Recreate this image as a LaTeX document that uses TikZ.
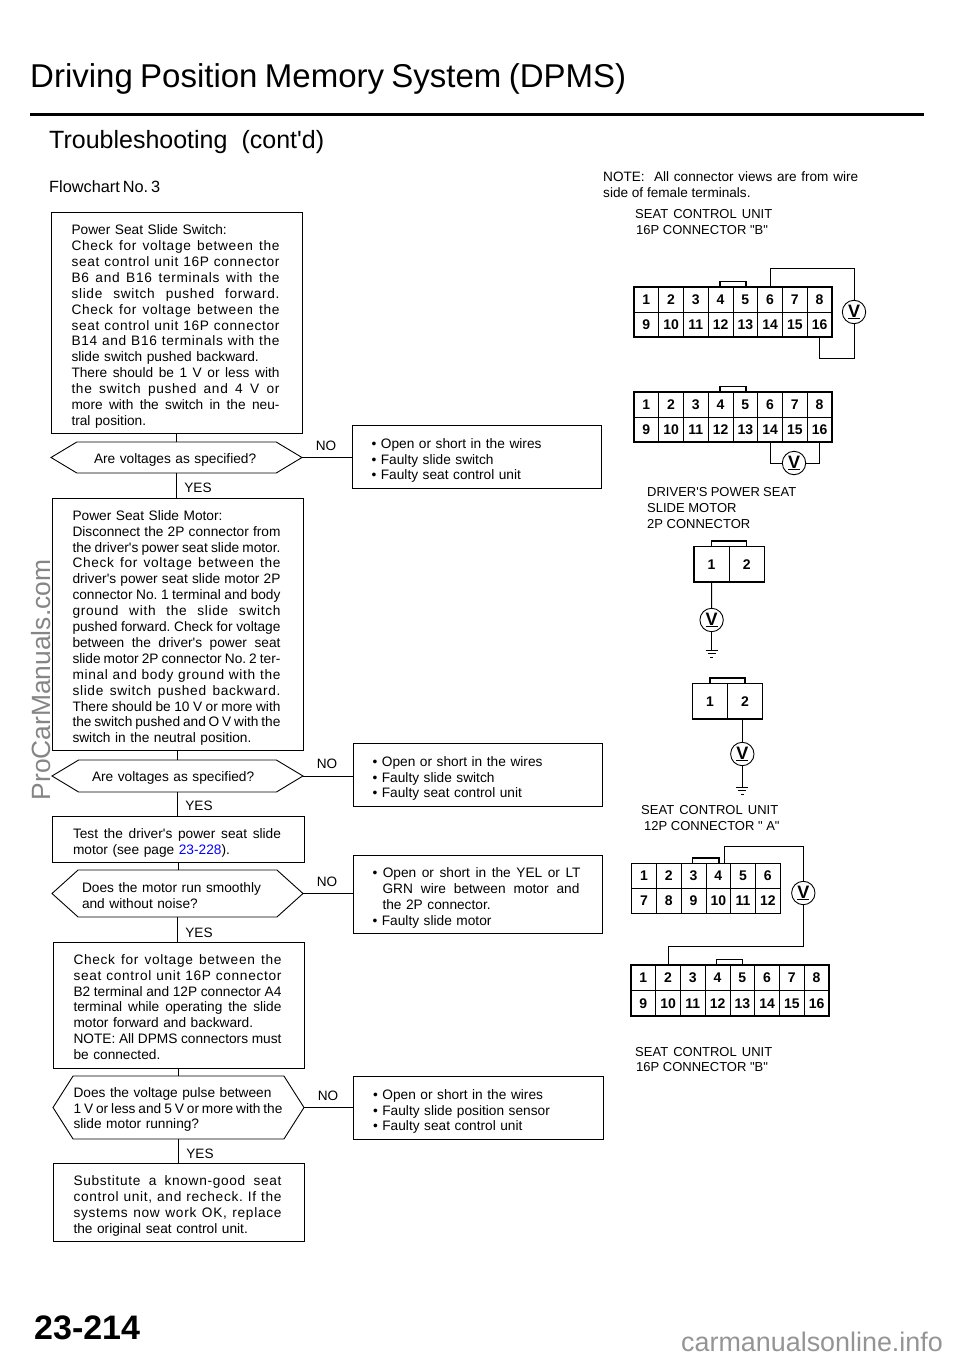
\documentclass[tikz,border=0pt]{standalone}
\usepackage{fontspec}
\setmainfont{Liberation Sans}[Ligatures=TeXOff]
\usetikzlibrary{shapes.symbols}

\newcommand{\jw}[2]{\makebox[#1pt][s]{\spaceskip=0pt \xspaceskip=0pt #2}}
\newcommand{\jl}[1]{\jw{208}{#1}}
\newcommand{\js}[1]{\jw{208}{\addfontfeature{LetterSpace=5}#1}}

\tikzset{
	wire/.style={line width=0.9pt},
	flowbox/.style={draw, line width=0.9pt, inner sep=0pt, outer sep=0pt, text width=210pt, align=left, font=\fontsize{13.7}{15.9}\selectfont, execute at begin node={\rule{0pt}{#1}}},
	flowbox/.default=18pt,
	decbox/.style={draw, line width=0.9pt, inner sep=0pt, outer sep=0pt, shape=signal, signal to=west and east, align=left, font=\fontsize{13.7}{15.9}\selectfont, execute at begin node={\rule{0pt}{14pt}}},
	lbl/.style={inner sep=0pt, font=\fontsize{13.6}{16}\selectfont},
	conntext/.style={inner sep=0pt, anchor=west, align=left, font=\fontsize{13}{15.9}\selectfont},
	cell/.style={draw, line width=0.9pt, inner sep=0pt, outer sep=0pt, font=\fontsize{14}{15}\bfseries\selectfont},
	vmeter/.style={draw, circle, line width=0.9pt, inner sep=0pt, outer sep=0pt, minimum size=23.4pt, font=\fontsize{18}{19}\bfseries\selectfont},
}

% name, left, top, columns, rows, cell width, cell height, tab left, tab right
\newcommand{\connector}[9]{
	\pgfmathtruncatemacro{\total}{#4*#5}
	\pgfmathsetmacro{\tabtop}{#3-5.5}
	\foreach \n in {1,...,\total} {
		\pgfmathsetmacro{\cx}{#2+#6*(mod(\n-1,#4)+0.5)}
		\pgfmathsetmacro{\cy}{#3+#7*(floor((\n-1)/#4)+0.5)}
		\node[cell, minimum width=#6pt, minimum height=#7pt] (#1-\n) at (\cx,\cy) {\n};
	}
	\draw[line width=1.4pt] (#1-1.north west) rectangle (#1-\total.south east);
	\draw[line width=1.2pt] (#8,#3) -- (#8,\tabtop) -- (#9,\tabtop) -- (#9,#3);
}
\newcommand{\groundat}[1]{
	\draw[wire] (#1) ++(-6,0) -- ++(12,0);
	\draw[wire] (#1) ++(-4,3.5) -- ++(8,0);
	\draw[wire] (#1) ++(-1.5,7) -- ++(3,0);
}

\begin{document}
\frenchspacing
\begin{tikzpicture}[x=1pt,y=-1pt]
	\useasboundingbox (0,0) rectangle (960,1359);

	\node[inner sep=0pt, anchor=base west, font=\fontsize{33}{34}\selectfont] (title) at (30,88) {\jw{596}{Driving Position Memory System (DPMS)}};
	\coordinate (ruleL) at (30,114.5);
	\coordinate (ruleR) at (924,114.5);
	\draw[line width=2.2pt] (ruleL) -- (ruleR);
	\node[inner sep=0pt, anchor=base west, font=\fontsize{25}{26}\selectfont] (subtitle) at (49,148.5) {\jw{275}{Troubleshooting\ \ (cont'd)}};
	\node[inner sep=0pt, anchor=base west, font=\fontsize{16.3}{18}\selectfont] (flowno) at (49,193) {\jw{111}{Flowchart No. 3}};

	% left column
	\node[flowbox, minimum width=251pt, minimum height=221pt] (switch) at (176.5,322.5) {
		Power Seat Slide Switch:\\
		\js{Check for voltage between the}\\
		\js{seat control unit 16P connector}\\
		\js{B6 and B16 terminals with the}\\
		\js{slide switch pushed forward.}\\
		\js{Check for voltage between the}\\
		\js{seat control unit 16P connector}\\
		\js{B14 and B16 terminals with the}\\
		slide switch pushed backward.\\
		\jl{There should be 1 V or less with}\\
		\js{the switch pushed and 4 V or}\\
		\jl{more with the switch in the neu-}\\
		tral position.};
	\node[decbox, minimum width=251pt, minimum height=31pt, signal pointer angle=62, text width=165pt] (dec1) at (176.5,457.5) {Are voltages as specified?};
	\node[flowbox, minimum width=251pt, minimum height=252pt] (motor) at (177.5,624) {
		Power Seat Slide Motor:\\
		\jl{Disconnect the 2P connector from}\\
		\jl{the driver's power seat slide motor.}\\
		\js{Check for voltage between the}\\
		\jl{driver's power seat slide motor 2P}\\
		\jl{connector No. 1 terminal and body}\\
		\js{ground with the slide switch}\\
		\jl{pushed forward. Check for voltage}\\
		\jl{between the driver's power seat}\\
		\jl{slide motor 2P connector No. 2 ter-}\\
		\js{minal and body ground with the}\\
		\js{slide switch pushed backward.}\\
		\jl{There should be 10 V or more with}\\
		\jl{the switch pushed and O V with the}\\
		switch in the neutral position.};
	\node[decbox, minimum width=251pt, minimum height=32pt, signal pointer angle=62, text width=171pt] (dec2) at (177.5,776) {Are voltages as specified?};
	\node[flowbox, minimum width=252pt, minimum height=46pt] (test) at (178,839) {
		\jl{Test the driver's power seat slide}\\
		motor (see page \textcolor{blue}{23-228}).};
	\node[decbox, minimum width=251pt, minimum height=47pt, signal pointer angle=84, text width=191pt] (dec3) at (177.5,893.5) {
		Does the motor run smoothly\\
		and without noise?};
	\node[flowbox=14pt, minimum width=251pt, minimum height=126pt] (pulse) at (178.5,1005) {
		\js{Check for voltage between the}\\
		\js{seat control unit 16P connector}\\
		\jl{B2 terminal and 12P connector A4}\\
		\jl{terminal while operating the slide}\\
		motor forward and backward.\\
		\jl{NOTE: All DPMS connectors must}\\
		be connected.};
	\node[decbox, minimum width=251pt, minimum height=63pt, signal pointer angle=115, text width=210pt] (dec4) at (178.5,1107.5) {
		Does the voltage pulse between\\
		\jw{209}{1 V or less and 5 V or more with the}\\
		slide motor running?};
	\node[flowbox, minimum width=251pt, minimum height=78pt] (subst) at (178.5,1202) {
		\js{Substitute a known-good seat}\\
		\js{control unit, and recheck. If the}\\
		\js{systems now work OK, replace}\\
		the original seat control unit.};

	% right column
	\node[flowbox, minimum width=249pt, minimum height=63pt] (end1) at (476.5,456.5) {
		• Open or short in the wires\\
		• Faulty slide switch\\
		• Faulty seat control unit};
	\node[flowbox, minimum width=249pt, minimum height=63pt] (end2) at (477.5,774.5) {
		• Open or short in the wires\\
		• Faulty slide switch\\
		• Faulty seat control unit};
	\node[flowbox, minimum width=249pt, minimum height=78pt] (end3) at (477.5,894) {
		\jl{• Open or short in the YEL or LT}\\
		\hspace*{10pt}\jw{197}{GRN wire between motor and}\\
		\hspace*{10pt}the 2P connector.\\
		• Faulty slide motor};
	\node[flowbox, minimum width=250pt, minimum height=63pt] (end4) at (478,1107.5) {
		• Open or short in the wires\\
		• Faulty slide position sensor\\
		• Faulty seat control unit};

	\draw[wire] (switch) -- (dec1);
	\draw[wire] (dec1.south) -- (dec1.south |- motor.north);
	\draw[wire] (motor.south) -- (motor.south |- dec2.north);
	\draw[wire] (dec2.south) -- (dec2.south |- test.north);
	\draw[wire] (test.south) -- (test.south |- dec3.north);
	\draw[wire] (dec3.south) -- (dec3.south |- pulse.north);
	\draw[wire] (pulse.south) -- (pulse.south |- dec4.north);
	\draw[wire] (dec4.south) -- (dec4.south |- subst.north);
	\draw[wire] (dec1.east) -- (dec1.east -| end1.west);
	\draw[wire] (dec2.east) -- (dec2.east -| end2.west);
	\draw[wire] (dec3.east) -- (dec3.east -| end3.west);
	\draw[wire] (dec4.east) -- (dec4.east -| end4.west);

	\node[lbl] (no1) at (326,446) {NO};
	\node[lbl] (no2) at (327,764) {NO};
	\node[lbl] (no3) at (327,882) {NO};
	\node[lbl] (no4) at (328,1096) {NO};
	\node[lbl] (yes1) at (198,488) {YES};
	\node[lbl] (yes2) at (199,806) {YES};
	\node[lbl] (yes3) at (199,933) {YES};
	\node[lbl] (yes4) at (200,1154) {YES};

	% connector views
	\node[conntext, font=\fontsize{13.6}{15.9}\selectfont] (note) at (603,184.5) {\jw{255}{NOTE:\ \ All connector views are from wire}\\side of female terminals.};
	\node[conntext] (seatb1) at (635,222) {\jw{137}{SEAT CONTROL UNIT}\\\hspace*{1pt}16P CONNECTOR "B"};
	\node[conntext] (driver) at (647,508) {\jw{149}{DRIVER'S POWER SEAT}\\SLIDE MOTOR\\2P CONNECTOR};
	\node[conntext] (seata) at (641,818) {\jw{137}{SEAT\ \ CONTROL\ \ UNIT}\\\hspace*{3pt}12P CONNECTOR " A"};
	\node[conntext] (seatb2) at (635,1059.5) {\jw{137}{SEAT CONTROL UNIT}\\\hspace*{1pt}16P CONNECTOR "B"};

	\connector{ca}{634}{287}{8}{2}{24.75}{25}{720}{746}
	\node[vmeter] (va) at (854,312) {\underline{V}};
	\coordinate (va1) at (854,268);
	\coordinate (va2) at (854,358);
	\draw[wire] (ca-6.north) |- (va1) -- (va.north);
	\draw[wire] (va.south) -- (va2) -| (ca-16.south);

	\connector{cb}{634}{392}{8}{2}{24.75}{25}{720}{746}
	\node[vmeter] (vb) at (794,463) {\underline{V}};
	\draw[wire] (cb-14.south) |- (vb.west);
	\draw[wire] (vb.east) -| (cb-16.south);

	\connector{cc}{694}{546.5}{2}{1}{35.2}{35.6}{711.5}{746.5}
	\node[vmeter] (vc) at (711.6,620) {\underline{V}};
	\coordinate (gc) at (711.6,650);
	\draw[wire] (cc-1.south) -- (vc.north);
	\draw[wire] (vc.south) -- (gc);
	\groundat{gc}

	\connector{cd}{692.3}{683.5}{2}{1}{35.2}{35.6}{710}{745}
	\node[vmeter] (vd) at (742.3,754) {\underline{V}};
	\coordinate (gd) at (742.3,787);
	\draw[wire] (vd.north) -- (vd.north |- cd-2.south);
	\draw[wire] (vd.south) -- (gd);
	\groundat{gd}

	\connector{ce}{631.7}{863.5}{6}{2}{24.75}{25}{692.7}{719}
	\node[vmeter] (ve) at (803.3,893) {\underline{V}};
	\coordinate (e1) at (803.3,846);
	\coordinate (e2) at (803.3,946);

	\connector{cf}{631}{965}{8}{2}{24.75}{25.5}{716.7}{742.7}
	\draw[wire] ([xshift=6.6pt]ce-4.north) |- (e1) -- (ve.north);
	\draw[wire] (ve.south) -- (e2) -| (cf-2.north);

	% page furniture
	\node[inner sep=0pt, anchor=base west, font=\fontsize{34}{36}\bfseries\selectfont] (pageno) at (34,1339) {23-214};
	\node[inner sep=0pt, rotate=90, text=black!48, font=\fontsize{26.4}{29}\selectfont] (mark1) at (41,680) {ProCarManuals.com};
	\node[inner sep=0pt, anchor=base west, text=black!42, font=\fontsize{26.9}{28}\selectfont] (mark2) at (681,1351) {carmanualsonline.info};
\end{tikzpicture}
\end{document}
